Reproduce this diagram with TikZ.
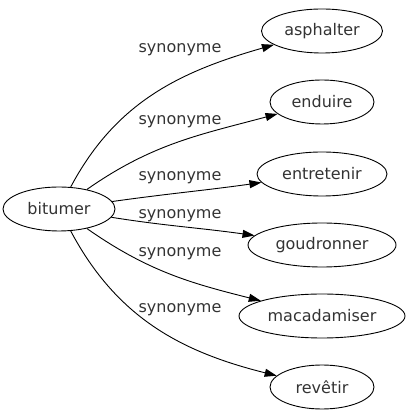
\documentclass[tikz,border=0pt]{standalone}
\usepackage{fontspec}
\setmainfont{DejaVu Sans}
\usetikzlibrary{arrows.meta,shapes.geometric}
\begin{document}
\begin{tikzpicture}[x=1pt,y=1pt,
  nd/.style={draw, ellipse, inner sep=0pt, minimum height=44pt, line width=0.9pt, font=\fontsize{16}{19}\selectfont, text=black!80},
  lbl/.style={font=\fontsize{16}{19}\selectfont, text=black!80, inner sep=0pt},
  edge/.style={line width=0.9pt, -{Triangle[length=12pt,width=8pt]}}]
\useasboundingbox (0,0) rectangle (410,419);
\node[nd, minimum width=112pt] (b) at (59,210) {bitumer};
\node[nd, minimum width=121pt] (asph) at (322,388) {asphalter};
\node[nd, minimum width=104pt] (endu) at (322,317) {enduire};
\node[nd, minimum width=130pt] (entr) at (322,245) {entretenir};
\node[nd, minimum width=148pt] (goud) at (322,174) {goudronner};
\node[nd, minimum width=166pt] (maca) at (322,103) {macadamiser};
\node[nd, minimum width=104pt] (reve) at (322,32) {revêtir};
\draw[edge] (b) to[out=62,in=196] (asph);
\draw[edge] (b) to[out=35,in=195] (endu);
\draw[edge] (b) to[out=8,in=188] (entr);
\draw[edge] (b) to[out=-9,in=172] (goud);
\draw[edge] (b) to[out=-35,in=166] (maca);
\draw[edge] (b) to[out=-62,in=166] (reve);
\node[lbl] (l1) at (180,369) {synonyme};
\node[lbl] (l2) at (180,297) {synonyme};
\node[lbl] (l3) at (180,241) {synonyme};
\node[lbl] (l4) at (180,203) {synonyme};
\node[lbl] (l5) at (180,165) {synonyme};
\node[lbl] (l6) at (180,109) {synonyme};
\end{tikzpicture}
\end{document}
